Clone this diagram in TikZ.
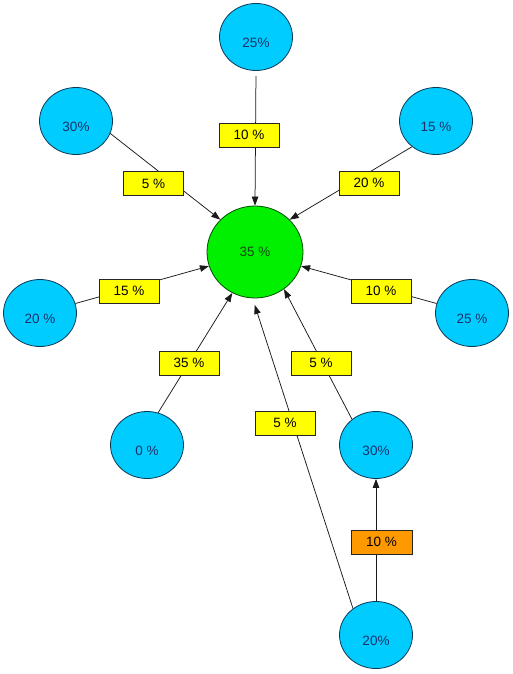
\documentclass[tikz,border=0pt]{standalone}
\usepackage{fontspec}
\setmainfont{Liberation Sans}
\usetikzlibrary{shapes.geometric,arrows.meta}
\definecolor{sharefill}{RGB}{0,204,255}
\definecolor{shareline}{RGB}{10,55,85}
\definecolor{sharetext}{RGB}{25,50,105}
\definecolor{hubfill}{RGB}{0,240,0}
\definecolor{hubline}{RGB}{0,75,0}
\definecolor{hubtext}{RGB}{20,70,20}
\definecolor{rateyellow}{RGB}{255,255,0}
\definecolor{rateorange}{RGB}{255,153,0}

\begin{document}
\begin{tikzpicture}[x=1pt,y=-1pt,font=\fontsize{13.5}{16}\selectfont,
  share/.style={ellipse,draw=shareline,fill=sharefill,line width=.8pt,minimum width=73pt,minimum height=67pt,inner sep=0pt,text height=21pt,text depth=0pt,text=sharetext},
  total/.style={ellipse,draw=hubline,fill=hubfill,line width=.8pt,minimum width=96pt,minimum height=92pt,inner sep=0pt,text=hubtext},
  rate/.style={draw=black!85,fill=rateyellow,line width=.7pt,minimum width=60pt,minimum height=24pt,inner sep=0pt},
  link/.style={draw=black!90,line width=.75pt,-{Triangle[length=9pt,width=6.5pt]}}]
\useasboundingbox (0,0) rectangle (512,674);
\node[total] (hub) at (255,252) {35 \%};
\node[share] (top) at (256,37) {25\%};
\node[share] (upleft) at (76,121) {30\%};
\node[share] (upright) at (436,121) {15 \%};
\node[share] (left) at (40,313) {20 \%};
\node[share] (right) at (472,313) {25 \%};
\node[share] (zero) at (147,445) {0 \%};
\node[share] (lowright) at (376,445) {30\%};
\node[share] (bottom) at (376,635) {20\%};
\draw[link,shorten <=5pt] (top.south) -- (hub.north);
\draw[link] (upleft.-20) -- (hub.137);
\draw[link] (upright.227) -- (hub.43);
\draw[link] (left.15) -- (hub.197);
\draw[link] (right.165) -- (hub.-17);
\draw[link] (zero.71) -- (hub.241);
\draw[link] (lowright.133) -- (hub.-52);
\draw[link,shorten >=7pt] (bottom.131) -- (hub.267);
\draw[link] (bottom.north) -- (lowright.south);
\node[rate] (r1) at (249,135) {10 \%};
\node[rate] (r2) at (153.5,183.5) {5 \%};
\node[rate] (r3) at (369,183) {20 \%};
\node[rate] (r4) at (129,291) {15 \%};
\node[rate] (r5) at (381,291) {10 \%};
\node[rate] (r6) at (189,363) {35 \%};
\node[rate] (r7) at (321,363) {5 \%};
\node[rate] (r8) at (285,423) {5 \%};
\node[rate,fill=rateorange,minimum width=61pt] (r9) at (381.5,542) {10 \%};
\end{tikzpicture}
\end{document}
